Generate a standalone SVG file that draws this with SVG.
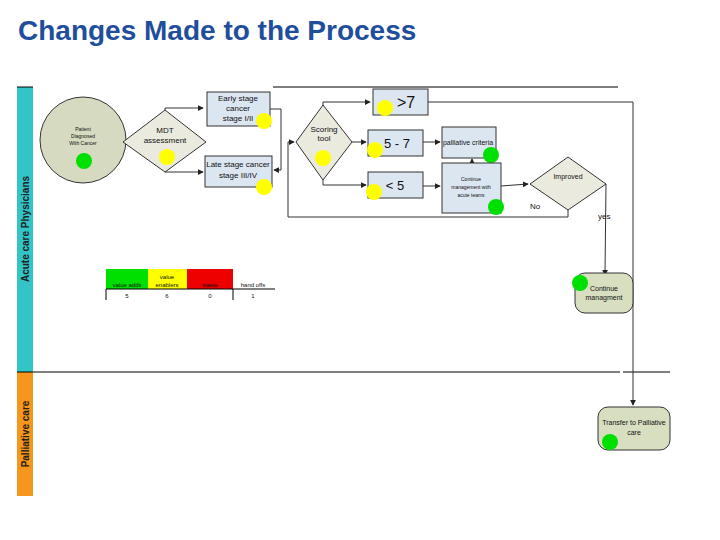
<svg xmlns="http://www.w3.org/2000/svg" width="720" height="540" viewBox="0 0 720 540">
<defs>
<marker id="ar" viewBox="0 0 8 8" refX="7" refY="4" markerWidth="6" markerHeight="6" orient="auto"><path d="M0,0L8,4L0,8z" fill="#222"/></marker>
<style>
text{font-family:"Liberation Sans",Arial,sans-serif;fill:#111}
.s{font-size:8px}.xs{font-size:5px}
.box{fill:#dce6f1;stroke:#333;stroke-width:1}
.nd{fill:#ebeadf;stroke:#333;stroke-width:1}
.rn{fill:#d8dfc0;stroke:#333;stroke-width:1}
.ln{fill:none;stroke:#333;stroke-width:1}
.y{fill:#ffff00}.g{fill:#00e000}
.big{font-size:16px}
</style>
</defs>
<rect width="720" height="540" fill="#fff"/>
<text x="18" y="40" style="font-size:28px;font-weight:bold;fill:#1f4e9c">Changes Made to the Process</text>
<g id="lanes">
<rect x="17" y="87" width="16" height="285" fill="#33c4c8"/>
<rect x="17" y="372" width="16" height="124" fill="#f6961c"/>
<text transform="translate(29,229) rotate(-90)" text-anchor="middle" style="font-size:10px;font-weight:bold;fill:#222">Acute care Physicians</text>
<text transform="translate(29,434) rotate(-90)" text-anchor="middle" style="font-size:10px;font-weight:bold;fill:#222">Palliative care</text>
<line x1="17" y1="87" x2="33" y2="87" stroke="#000"/>
<line x1="273" y1="87" x2="618" y2="87" stroke="#000"/>
<line x1="17" y1="372" x2="620" y2="372" stroke="#000"/>
<line x1="623" y1="372" x2="670" y2="372" stroke="#000"/>
</g>
<g id="connectors">
<polyline class="ln" points="165,110 165,108 203,108" marker-end="url(#ar)"/>
<polyline class="ln" points="165,172 165,172 203,172" marker-end="url(#ar)"/>
<polyline class="ln" points="270,109 281,109 281,170 274,170" marker-end="url(#ar)"/>
<polyline class="ln" points="288,217 288,142 294,142" marker-end="url(#ar)"/>
<polyline class="ln" points="568,210 568,217 288,217"/>
<polyline class="ln" points="323,105 323,102 370,102" marker-end="url(#ar)"/>
<line class="ln" x1="352" y1="142" x2="366" y2="142" marker-end="url(#ar)"/>
<polyline class="ln" points="323,180 323,185 366,185" marker-end="url(#ar)"/>
<line class="ln" x1="423" y1="142" x2="440" y2="142" marker-end="url(#ar)"/>
<line class="ln" x1="423" y1="186" x2="440" y2="186" marker-end="url(#ar)"/>
<line class="ln" x1="472" y1="163" x2="472" y2="159" marker-end="url(#ar)"/>
<line class="ln" x1="501" y1="186" x2="528" y2="184" marker-end="url(#ar)"/>
<polyline class="ln" points="606,184 605,275" marker-end="url(#ar)"/>
<polyline class="ln" points="428,102 633,102 633,405" marker-end="url(#ar)"/>
<text x="530" y="209" class="s">No</text>
<text x="598" y="219" class="s">yes</text>
</g>
<g id="patient"><circle cx="83" cy="140" r="43" fill="#d6dac0" stroke="#333"/>
<text x="83" y="131" class="xs" text-anchor="middle">Patient</text><text x="83" y="138" class="xs" text-anchor="middle">Diagnosed</text><text x="83" y="145" class="xs" text-anchor="middle">With Cancer</text>
<circle cx="84" cy="161" r="8" class="g"/></g>
<g id="mdt"><polygon class="nd" points="123,142 165,110 206,142 165,172"/>
<text x="165" y="133" class="s" text-anchor="middle">MDT</text><text x="165" y="143" class="s" text-anchor="middle">assessment</text>
<circle cx="167" cy="157" r="8" class="y"/></g>
<g id="early"><rect class="box" x="207" y="92" width="63" height="34"/>
<text x="238" y="101" class="s" text-anchor="middle">Early stage</text><text x="238" y="111" class="s" text-anchor="middle">cancer</text><text x="238" y="121" class="s" text-anchor="middle">stage I/II</text>
<circle cx="264" cy="121" r="8" class="y"/></g>
<g id="late"><rect class="box" x="205" y="156" width="67" height="31"/>
<text x="238" y="167" class="s" text-anchor="middle">Late stage cancer</text><text x="238" y="178" class="s" text-anchor="middle">stage III/IV</text>
<circle cx="264" cy="187" r="8" class="y"/></g>
<g id="scoring"><polygon class="nd" points="296,142 323,105 352,142 323,180"/>
<text x="324" y="132" class="s" text-anchor="middle">Scoring</text><text x="324" y="141" class="s" text-anchor="middle">tool</text>
<circle cx="323" cy="158" r="8" class="y"/></g>
<g id="gt7"><rect class="box" x="373" y="89" width="55" height="26"/><text x="406" y="108" class="big" text-anchor="middle">&gt;7</text><circle cx="385" cy="108" r="8" class="y"/></g>
<g id="r57"><rect class="box" x="368" y="130" width="55" height="26"/><text x="397" y="148" style="font-size:13px" text-anchor="middle">5 - 7</text><circle cx="375" cy="150" r="8" class="y"/></g>
<g id="lt5"><rect class="box" x="368" y="172" width="55" height="26"/><text x="395" y="190" style="font-size:13px" text-anchor="middle">&lt; 5</text><circle cx="374" cy="192" r="8" class="y"/></g>
<g id="pall"><rect class="box" x="442" y="127" width="54" height="31"/><text x="468" y="145" style="font-size:7px" text-anchor="middle">palliative criteria</text><circle cx="491" cy="155" r="8" class="g"/></g>
<g id="cont"><rect class="box" x="442" y="163" width="59" height="50"/>
<text x="471" y="181" class="xs" text-anchor="middle">Continue</text><text x="471" y="189" class="xs" text-anchor="middle">management with</text><text x="471" y="197" class="xs" text-anchor="middle">acute teams</text>
<circle cx="496" cy="207" r="8" class="g"/></g>
<g id="improved"><polygon class="nd" points="530,184 568,157 606,184 568,210"/><text x="568" y="179" style="font-size:7px" text-anchor="middle">Improved</text></g>
<g id="contmgmt"><rect class="rn" x="575" y="273" width="58" height="40" rx="10"/>
<text x="604" y="291" style="font-size:7px" text-anchor="middle">Continue</text><text x="604" y="300" style="font-size:7px" text-anchor="middle">managment</text>
<circle cx="580" cy="283" r="8" class="g"/></g>
<g id="transfer"><rect class="rn" x="598" y="407" width="72" height="43" rx="10"/>
<text x="634" y="425" style="font-size:7px" text-anchor="middle">Transfer to Palliative</text><text x="634" y="435" style="font-size:7px" text-anchor="middle">care</text>
<circle cx="610" cy="442" r="8" class="g"/></g>
<g id="legend">
<rect x="106" y="269" width="42" height="20" fill="#00e000"/>
<rect x="148" y="269" width="39" height="20" fill="#ffff00"/>
<rect x="187" y="269" width="46" height="20" fill="#ee0000"/>
<line x1="106" y1="289" x2="275" y2="289" stroke="#000"/>
<line x1="106" y1="289" x2="106" y2="300" stroke="#000"/>
<line x1="233" y1="289" x2="233" y2="300" stroke="#000"/>
<text x="127" y="287" text-anchor="middle" style="font-size:6px">value adds</text>
<text x="167" y="279" text-anchor="middle" style="font-size:6px">value</text>
<text x="167" y="287" text-anchor="middle" style="font-size:6px">enablers</text>
<text x="210" y="287" text-anchor="middle" style="font-size:6px">waste</text>
<text x="253" y="287" text-anchor="middle" style="font-size:6px">hand offs</text>
<text x="127" y="298" text-anchor="middle" style="font-size:6px">5</text>
<text x="167" y="298" text-anchor="middle" style="font-size:6px">6</text>
<text x="210" y="298" text-anchor="middle" style="font-size:6px">0</text>
<text x="253" y="298" text-anchor="middle" style="font-size:6px">1</text>
</g>
</svg>
